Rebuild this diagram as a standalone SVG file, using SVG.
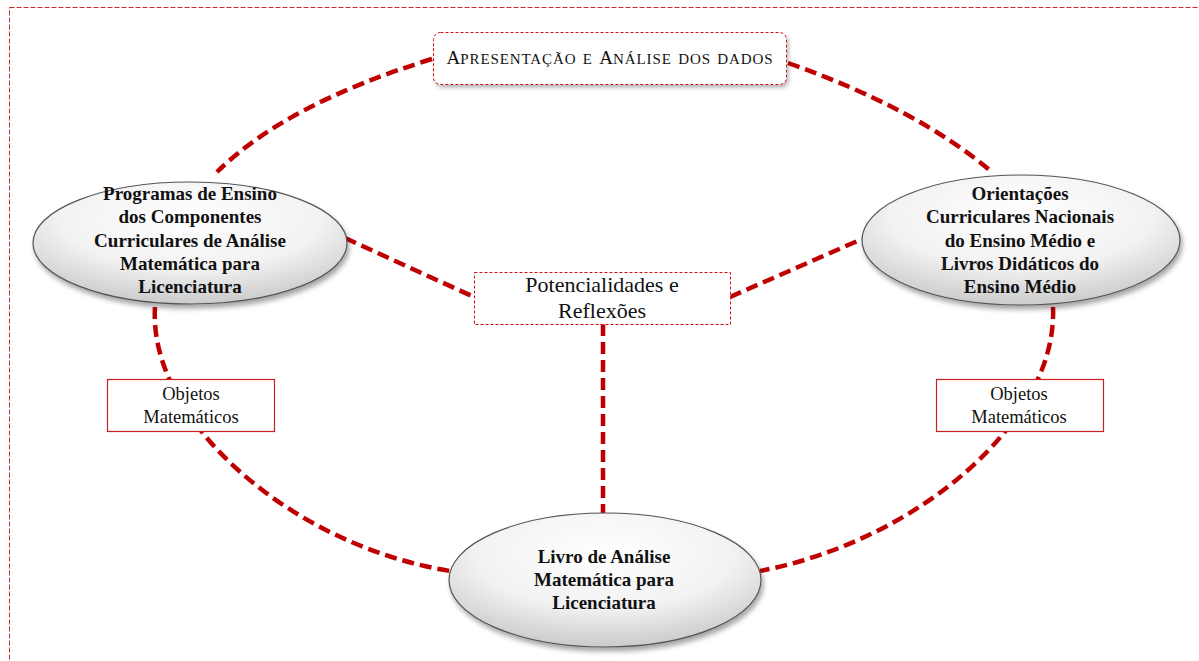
<svg xmlns="http://www.w3.org/2000/svg" width="1199" height="661" viewBox="0 0 1199 661">
<defs>
<radialGradient id="g" cx="50%" cy="30%" r="75%">
<stop offset="0" stop-color="#ffffff"/>
<stop offset="0.55" stop-color="#f2f2f2"/>
<stop offset="1" stop-color="#c4c4c4"/>
</radialGradient>
<filter id="sh" x="-10%" y="-10%" width="125%" height="135%">
<feDropShadow dx="2" dy="4" stdDeviation="2.5" flood-color="#000" flood-opacity="0.35"/>
</filter>
<filter id="sh2" x="-10%" y="-20%" width="125%" height="150%">
<feDropShadow dx="2" dy="3" stdDeviation="2" flood-color="#000" flood-opacity="0.3"/>
</filter>
</defs>
<style>
.frame{fill:none;stroke:#cc2a2a;stroke-width:1;stroke-dasharray:5 2}
.conn{fill:none;stroke:#c00000;stroke-width:4.5;stroke-dasharray:12 6}
.ell{fill:url(#g);stroke:#555;stroke-width:1.2;filter:url(#sh)}
.bt{font-family:"Liberation Serif","Times New Roman",serif;font-weight:bold;font-size:19px;fill:#111;text-anchor:middle}
.rt{font-family:"Liberation Serif","Times New Roman",serif;fill:#111;text-anchor:middle}
.dbox{fill:#fff;stroke:#d01010;stroke-width:1;stroke-dasharray:3 2}
.sbox{fill:#fff;stroke:#c82020;stroke-width:1.2}
.sc{font-variant:small-caps;font-size:22px;letter-spacing:0.9px}
</style>
<rect class="frame" x="9.5" y="7.5" width="1250" height="700"/>
<g id="connectors">
<path class="conn" d="M432,59 Q286,104 217,172"/>
<path class="conn" d="M788,63 Q916,108 992,172"/>
<path class="conn" d="M155,307 C148,420 290,545 450,571"/>
<path class="conn" d="M1053,307 C1058,420 920,540 760,571"/>
<path class="conn" d="M345,238 L474,297"/>
<path class="conn" d="M730,297 L862,239"/>
<path class="conn" d="M603,324 L603,513"/>
</g>
<g id="titulo">
<rect x="433.5" y="32.5" width="353" height="52" rx="7" fill="#fff" filter="url(#sh2)"/>
<rect class="dbox" x="433.5" y="32.5" width="353" height="52" rx="7"/>
<text class="rt" x="610" y="64" font-size="19">A<tspan class="sc">presentação e </tspan>A<tspan class="sc">nálise dos dados</tspan></text>
</g>
<g id="programas">
<ellipse class="ell" cx="190" cy="243" rx="157" ry="61"/>
<text class="bt" x="190" y="200">Programas de Ensino</text>
<text class="bt" x="190" y="223">dos Componentes</text>
<text class="bt" x="190" y="247">Curriculares de Análise</text>
<text class="bt" x="190" y="270">Matemática para</text>
<text class="bt" x="190" y="293">Licenciatura</text>
</g>
<g id="orientacoes">
<ellipse class="ell" cx="1021" cy="240" rx="159" ry="65"/>
<text class="bt" x="1020" y="200">Orientações</text>
<text class="bt" x="1020" y="223">Curriculares Nacionais</text>
<text class="bt" x="1020" y="247">do Ensino Médio e</text>
<text class="bt" x="1020" y="270">Livros Didáticos do</text>
<text class="bt" x="1020" y="293">Ensino Médio</text>
</g>
<g id="livro">
<ellipse class="ell" cx="605" cy="580" rx="156" ry="67"/>
<text class="bt" x="604" y="563">Livro de Análise</text>
<text class="bt" x="604" y="586">Matemática para</text>
<text class="bt" x="604" y="609">Licenciatura</text>
</g>
<g id="potencialidades">
<rect class="dbox" x="474.5" y="272.5" width="256" height="52"/>
<text class="rt" x="602" y="292" font-size="22">Potencialidades e</text>
<text class="rt" x="602" y="318" font-size="22">Reflexões</text>
</g>
<g id="objetos-esq">
<rect class="sbox" x="107.5" y="379.5" width="167" height="52"/>
<text class="rt" x="191" y="400" font-size="18.5">Objetos</text>
<text class="rt" x="191" y="423" font-size="18.5">Matemáticos</text>
</g>
<g id="objetos-dir">
<rect class="sbox" x="936.5" y="379.5" width="167" height="52"/>
<text class="rt" x="1019" y="400" font-size="18.5">Objetos</text>
<text class="rt" x="1019" y="423" font-size="18.5">Matemáticos</text>
</g>
</svg>
